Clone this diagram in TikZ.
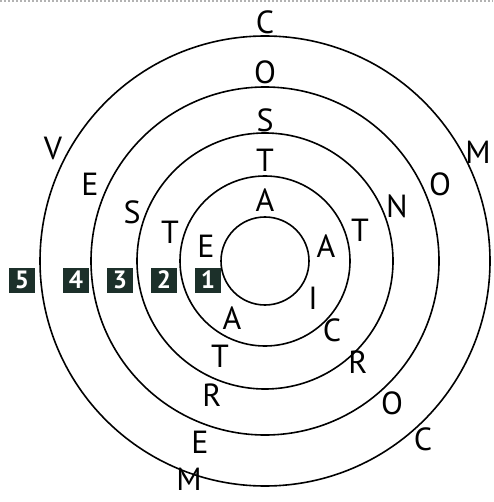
\documentclass[tikz,border=0pt]{standalone}
\usepackage{fontspec}
\newfontfamily\letterfont{PT Sans}
\definecolor{boxgreen}{RGB}{28,48,42}
\tikzset{
  ring/.style={draw=black, line width=1.6pt},
  lt/.style={inner sep=0pt, font=\letterfont\fontsize{32}{32}\selectfont},
  numbox/.style={fill=boxgreen, minimum width=26pt, minimum height=25pt, inner sep=0pt,
    text=white, font=\letterfont\bfseries\fontsize{25}{25}\selectfont},
}
\begin{document}
\begin{tikzpicture}[x=1pt,y=-1pt]
\useasboundingbox (0,0) rectangle (493,502);
\draw[gray!60, line width=2pt, dotted] (0,1) -- (493,1);
\coordinate (o) at (265,261);
\draw[ring] (o) circle[radius=225];
\draw[ring] (o) circle[radius=174];
\draw[ring] (o) circle[radius=128];
\draw[ring] (o) circle[radius=85];
\draw[ring] (o) circle[radius=44];
% column top
\node[lt] (c1) at (265,22) {C};
\node[lt] (o1) at (265,72) {O};
\node[lt] (s1) at (265,120) {S};
\node[lt] (t1) at (265,160) {T};
\node[lt] (a1) at (265,200) {A};
% upper left diagonal
\node[lt] (v2) at (53,148) {V};
\node[lt] (e2) at (90,184) {E};
\node[lt] (s2) at (132,212) {S};
\node[lt] (t2) at (170,232) {T};
\node[lt] (e3) at (206,246) {E};
% upper right diagonal
\node[lt] (m3) at (478,152) {M};
\node[lt] (o3) at (440,184) {O};
\node[lt] (n3) at (397,206) {N};
\node[lt] (t3) at (360,230) {T};
\node[lt] (a3) at (326,246) {A};
% lower right diagonal
\node[lt] (i4) at (313,298) {I};
\node[lt] (c4) at (332,330) {C};
\node[lt] (r4) at (358,362) {R};
\node[lt] (o4) at (392,403) {O};
\node[lt] (c5) at (423,439) {C};
% lower left diagonal
\node[lt] (a5) at (232,318) {A};
\node[lt] (t5) at (220,356) {T};
\node[lt] (r5) at (212,395) {R};
\node[lt] (e5) at (200,442) {E};
\node[lt] (m5) at (189,479) {M};
% numbered boxes
\node[numbox] (b5) at (22,280) {5};
\node[numbox] (b4) at (76,280) {4};
\node[numbox] (b3) at (120,280) {3};
\node[numbox] (b2) at (164,280) {2};
\node[numbox] (b1) at (208,280) {1};
\end{tikzpicture}
\end{document}
